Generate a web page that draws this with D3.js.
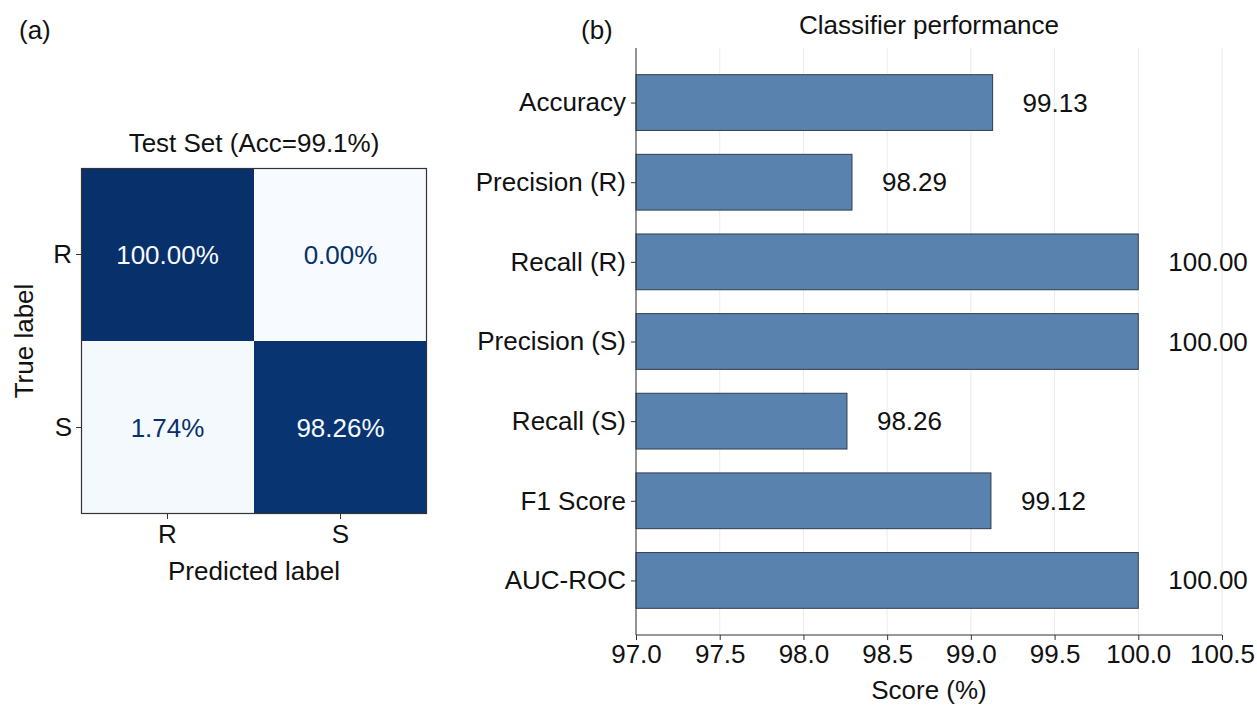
<!DOCTYPE html>
<html>
<head>
<meta charset="utf-8">
<script src="https://cdn.jsdelivr.net/npm/d3@7"></script>
<style>
  html, body { margin: 0; padding: 0; background: #fff; }
  svg { display: block; font-family: "Liberation Sans", Arial, Helvetica, sans-serif; }
</style>
</head>
<body>
<svg id="fig" width="1257" height="707"></svg>
<script>
// Confusion matrix (row-normalised, %)
const cmClasses = ["R", "S"];
const cmValues = [
  [100.00, 0.00],
  [1.74, 98.26]
];
const cmTitle = "Test Set (Acc=99.1%)";

// Classifier metrics (%)
const metrics = ["Accuracy", "Precision (R)", "Recall (R)", "Precision (S)", "Recall (S)", "F1 Score", "AUC-ROC"];
const scores = [99.13, 98.29, 100.00, 100.00, 98.26, 99.12, 100.00];
const scoreTicks = [97.0, 97.5, 98.0, 98.5, 99.0, 99.5, 100.0, 100.5];

const svg = d3.select("#fig");
const FONT = 26;
const INK = "#111";

// ---------- panel (a): confusion matrix ----------
const cm = { left: 81, top: 168, size: 346 };
const gA = svg.append("g");

const xCm = d3.scaleBand().domain(cmClasses).range([cm.left, cm.left + cm.size]);
const yCm = d3.scaleBand().domain(cmClasses).range([cm.top, cm.top + cm.size]);
const color = d3.scaleSequential(d3.interpolateBlues).domain([0, 100]);

const cells = [];
cmValues.forEach((row, i) => row.forEach((v, j) => cells.push({ t: cmClasses[i], p: cmClasses[j], v })));

gA.selectAll("rect.cell").data(cells).join("rect")
  .attr("class", "cell")
  .attr("x", d => xCm(d.p)).attr("y", d => yCm(d.t))
  .attr("width", xCm.bandwidth()).attr("height", yCm.bandwidth())
  .attr("fill", d => color(d.v));

gA.selectAll("text.val").data(cells).join("text")
  .attr("class", "val")
  .attr("x", d => xCm(d.p) + xCm.bandwidth() / 2)
  .attr("y", d => yCm(d.t) + yCm.bandwidth() / 2)
  .attr("text-anchor", "middle").attr("dominant-baseline", "central")
  .attr("font-size", FONT)
  .attr("fill", d => d.v > 50 ? color(0) : color(100))
  .text(d => d.v.toFixed(2) + "%");

gA.append("rect")
  .attr("x", cm.left + 0.5).attr("y", cm.top + 0.5)
  .attr("width", cm.size - 1).attr("height", cm.size - 1)
  .attr("fill", "none").attr("stroke", "#333").attr("stroke-width", 1.2);

const axL = gA.append("g").attr("transform", `translate(${cm.left},0)`)
  .call(d3.axisLeft(yCm).tickSize(5).tickPadding(4));
const axB = gA.append("g").attr("transform", `translate(0,${cm.top + cm.size})`)
  .call(d3.axisBottom(xCm).tickSize(5).tickPadding(6));
[axL, axB].forEach(a => {
  a.select(".domain").remove();
  a.selectAll("line").attr("stroke", "#333");
  a.selectAll("text").attr("font-size", FONT).attr("fill", INK).attr("font-family", null);
});

gA.append("text").attr("x", cm.left + cm.size / 2).attr("y", 152)
  .attr("text-anchor", "middle").attr("font-size", FONT).attr("fill", INK).text(cmTitle);
gA.append("text").attr("x", cm.left + cm.size / 2).attr("y", 580)
  .attr("text-anchor", "middle").attr("font-size", FONT).attr("fill", INK).text("Predicted label");
gA.append("text").attr("transform", `translate(33,${cm.top + cm.size / 2}) rotate(-90)`)
  .attr("text-anchor", "middle").attr("font-size", FONT).attr("fill", INK).text("True label");
gA.append("text").attr("x", 19).attr("y", 39).attr("font-size", FONT).attr("fill", INK).text("(a)");

// ---------- panel (b): horizontal bar chart ----------
const pb = { left: 636, right: 1222, top: 48, bottom: 635 };
const gB = svg.append("g");

const x = d3.scaleLinear().domain([97.0, 100.5]).range([pb.left, pb.right]);
// bar centres at integer indices, bar height 0.7, 5% margins
const y = d3.scaleLinear().domain([-0.685, metrics.length - 1 + 0.685]).range([pb.top, pb.bottom]);
const barH = y(0.35) - y(0);

gB.selectAll("line.grid").data(scoreTicks).join("line")
  .attr("class", "grid")
  .attr("x1", d => x(d)).attr("x2", d => x(d))
  .attr("y1", pb.top).attr("y2", pb.bottom)
  .attr("stroke", "#ebebeb").attr("stroke-width", 1);

gB.selectAll("rect.bar").data(metrics).join("rect")
  .attr("class", "bar")
  .attr("x", x(97.0))
  .attr("y", (d, i) => y(i) - barH)
  .attr("width", (d, i) => x(scores[i]) - x(97.0))
  .attr("height", 2 * barH)
  .attr("fill", "#5a82ae").attr("stroke", "#2f3d4c").attr("stroke-width", 1);

gB.selectAll("text.lbl").data(metrics).join("text")
  .attr("class", "lbl")
  .attr("x", (d, i) => x(scores[i]) + 30)
  .attr("y", (d, i) => y(i))
  .attr("dominant-baseline", "central")
  .attr("font-size", FONT).attr("fill", INK)
  .text((d, i) => scores[i].toFixed(2));

const axX = gB.append("g").attr("transform", `translate(0,${pb.bottom})`)
  .call(d3.axisBottom(x).tickValues(scoreTicks).tickFormat(d3.format(".1f")).tickSize(5).tickPadding(5));
axX.select(".domain").attr("stroke", "#333").attr("d", `M${pb.left},0H${pb.right}`);

const axY = gB.append("g").attr("transform", `translate(${pb.left},0)`)
  .call(d3.axisLeft(y).tickValues(d3.range(metrics.length)).tickFormat(i => metrics[i]).tickSize(5).tickPadding(5));
axY.select(".domain").attr("stroke", "#333").attr("d", `M0,${pb.top}V${pb.bottom}`);

[axX, axY].forEach(a => {
  a.selectAll("line").attr("stroke", "#333");
  a.selectAll("text").attr("font-size", FONT).attr("fill", INK).attr("font-family", null);
});

gB.append("text").attr("x", (pb.left + pb.right) / 2).attr("y", 34)
  .attr("text-anchor", "middle").attr("font-size", FONT).attr("fill", INK).text("Classifier performance");
gB.append("text").attr("x", (pb.left + pb.right) / 2).attr("y", 699)
  .attr("text-anchor", "middle").attr("font-size", FONT).attr("fill", INK).text("Score (%)");
gB.append("text").attr("x", 581).attr("y", 39).attr("font-size", FONT).attr("fill", INK).text("(b)");
</script>
</body>
</html>
